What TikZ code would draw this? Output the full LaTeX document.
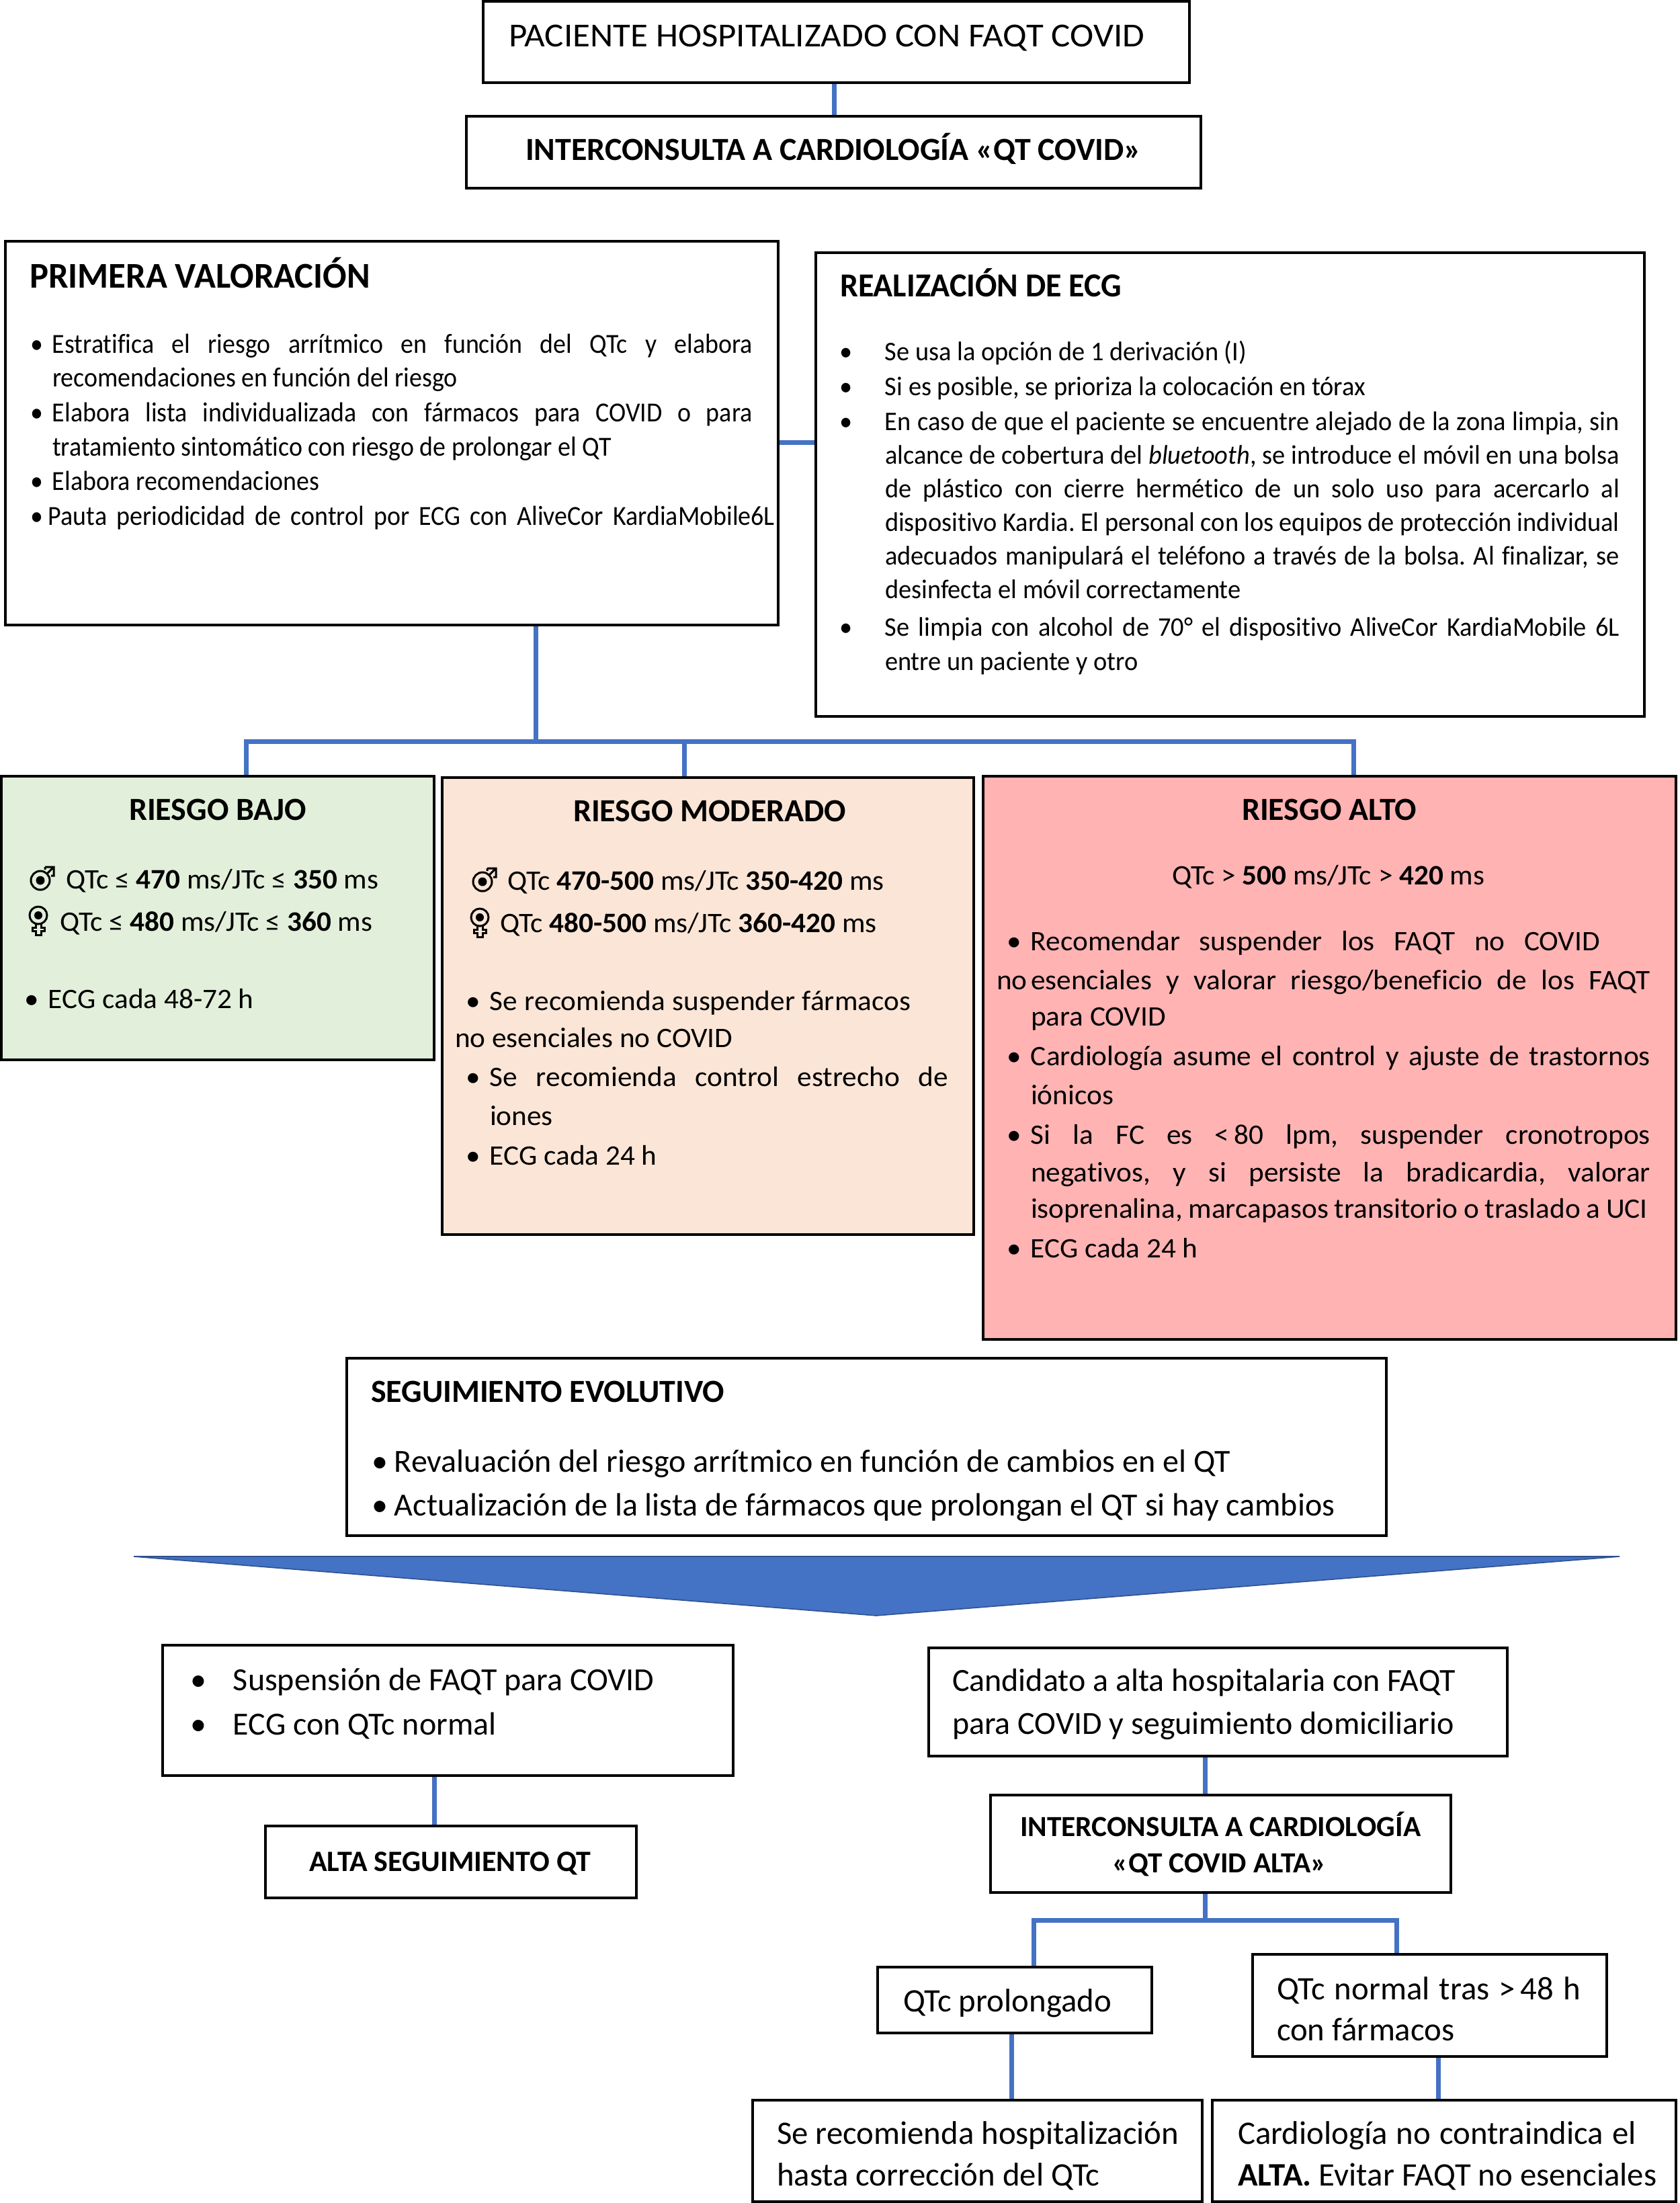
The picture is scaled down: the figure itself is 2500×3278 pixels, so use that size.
\documentclass[tikz,border=0pt]{standalone}
\usepackage{fontspec}
\setmainfont{Carlito}[Ligatures={TeX,NoCommon}]
\usetikzlibrary{backgrounds}
\newdimen\px \px=0.5pt
\newcommand\Fs[2]{\fontsize{#1}{#1}\selectfont\addfontfeature{FakeStretch=#2}}
\newcommand\Tx[4]{\node[tl] (#1) at (#2,#3) {#4};}
\newcommand\Jx[5]{\node[tl] (#1) at (#2,#3) {\hbox to #4\px{#5}};}
\newcommand\Bu[1]{\llap{\textbullet\kern#1\px}}
\newcommand\Bx[5]{\node[boxst,anchor=north west,minimum width={(#4-#2)*0.5pt},minimum height={(#5-#3)*0.5pt},#1] at (#2,#3) {};}
\definecolor{cblue}{HTML}{4472C4}
\definecolor{cgreen}{HTML}{E2EFDA}
\definecolor{cpeach}{HTML}{FBE5D6}
\definecolor{cpink}{HTML}{FFB3B3}
\definecolor{cdark}{HTML}{2F528F}
\tikzset{
 boxst/.style={draw=black,line width=2.4pt,inner sep=0pt,outer sep=0pt},
 tl/.style={anchor=base west,inner sep=0pt,outer sep=0pt,text=black},
 conn/.style={draw=cblue,line width=3.5pt},
 icon/.style={draw=black,line width=1.5pt,fill=none},
 maleicon/.pic={
  \draw[icon] (0,0) circle (14);
  \fill (0,0) circle (6.5);
  \draw[icon] (10,-10) -- (20,-20) (7,-20) -- (7,-16) (7,-20)--(20,-20) --(20,-7) -- (16,-7);
 },
 femaleicon/.pic={
  \draw[icon] (0,0) circle (13);
  \fill (0,0) circle (6);
  \draw[icon] (-4,13) -- (-4,18) -- (-9,18) -- (-9,23) -- (-4,23) -- (-4,29) -- (4,29) -- (4,23) -- (9,23) -- (9,18) -- (4,18) -- (4,13);
 },
}
\begin{document}
\frenchspacing
\begin{tikzpicture}[x=0.5pt,y=-0.5pt]
\useasboundingbox (0,0) rectangle (2500,3278);
% boxes
\Bx{name=pac}{719}{2}{1770}{123}
\Bx{name=inter}{694}{173}{1787}{280}
\Bx{name=prim}{8}{359}{1158}{930}
\Bx{name=ecg}{1214}{376}{2447}{1066}
\Bx{name=bajo,fill=cgreen}{2}{1155}{646}{1577}
\Bx{name=mod,fill=cpeach}{658}{1157}{1449}{1837}
\Bx{name=alto,fill=cpink}{1463}{1155}{2494}{1993}
\Bx{name=seg}{516}{2021}{2063}{2285}
\Bx{name=susp}{242}{2448}{1091}{2642}
\Bx{name=altaqt}{395}{2717}{947}{2824}
\Bx{name=cand}{1382}{2452}{2243}{2613}
\Bx{name=inter2}{1474}{2671}{2159}{2816}
\Bx{name=qtp}{1306}{2927}{1714}{3025}
\Bx{name=qtn}{1864}{2908}{2391}{3060}
\Bx{name=hosp}{1120}{3125}{1789}{3276}
\Bx{name=card}{1804}{3125}{2494}{3276}
% connectors
\coordinate (a1) at (1241,100);
\coordinate (j1) at (797,1103);
\coordinate (d1) at (366,1103);
\coordinate (d2) at (1018,1103);
\coordinate (d3) at (2014,1103);
\coordinate (h1) at (1200,658);
\coordinate (c1) at (646,2680);
\coordinate (c2) at (1793,2640);
\coordinate (j2) at (1793,2857);
\coordinate (d4) at (1538,2857);
\coordinate (d5) at (2078,2857);
\coordinate (c3) at (1505,3070);
\coordinate (c4) at (2140,3090);
\begin{scope}[on background layer]
\draw[conn] (pac.south -| a1) -- (inter.north -| a1);
\draw[conn] (prim.east |- h1) -- (ecg.west |- h1);
\draw[conn] (prim.south -| j1) -- (j1);
\draw[conn] (d1 |- bajo.north) -- (d1) -- (d3) -- (d3 |- alto.north);
\draw[conn] (d2) -- (d2 |- mod.north);
\draw[conn] (susp.south -| c1) -- (altaqt.north -| c1);
\draw[conn] (cand.south -| c2) -- (inter2.north -| c2);
\draw[conn] (inter2.south -| j2) -- (j2);
\draw[conn] (d4 |- qtp.north) -- (d4) -- (d5) -- (d5 |- qtn.north);
\draw[conn] (qtp.south -| c3) -- (hosp.north -| c3);
\draw[conn] (qtn.south -| c4) -- (card.north -| c4);
\end{scope}
% arrow triangle
\draw[fill=cblue,draw=cdark,line width=0.8pt] (199,2316) -- (2410,2316) -- (1304,2404) -- cycle;
% icons
\pic at (60,1310) {maleicon};
\pic at (57,1362) {femaleicon};
\pic at (718,1312) {maleicon};
\pic at (714,1365) {femaleicon};
% text
\begin{scope}[every node/.append style={font=\Fs{25}{1.06}}]
\Tx{t1}{757}{69}{PACIENTE HOSPITALIZADO CON FAQT COVID}
\end{scope}
\begin{scope}[every node/.append style={font=\Fs{24}{1.0}\bfseries}]
\Tx{t2}{782}{238}{INTERCONSULTA A CARDIOLOGÍA «QT COVID»}
\end{scope}
\begin{scope}[every node/.append style={font=\Fs{27}{0.975}\bfseries}]
\Tx{p0}{44}{428}{PRIMERA VALORACIÓN}
\end{scope}
\begin{scope}[every node/.append style={font=\Fs{20.5}{0.925}}]
\Jx{p1}{78}{525}{1042}{\Bu{14}Estratifica el riesgo arrítmico en función del QTc y elabora}
\Tx{p2}{78}{575}{recomendaciones en función del riesgo}
\Jx{p3}{78}{627}{1042}{\Bu{14}Elabora lista individualizada con fármacos para COVID o para}
\Tx{p4}{78}{678}{tratamiento sintomático con riesgo de prolongar el QT}
\Tx{p5}{78}{729}{\Bu{14}Elabora recomendaciones}
\Jx{p6}{72}{781}{1081}{\Bu{8}Pauta periodicidad de control por ECG con AliveCor KardiaMobile6L}
\end{scope}
\begin{scope}[every node/.append style={font=\Fs{25}{0.96}\bfseries}]
\Tx{e0}{1250}{441}{REALIZACIÓN DE ECG}
\end{scope}
\begin{scope}[every node/.append style={font=\Fs{20}{0.96}}]
\Tx{e1}{1317}{536}{\Bu{48}Se usa la opción de 1 derivación (I)}
\Tx{e2}{1317}{588}{\Bu{48}Si es posible, se prioriza la colocación en tórax}
\Jx{e3}{1317}{640}{1093}{\Bu{48}En caso de que el paciente se encuentre alejado de la zona limpia, sin}
\Jx{e4}{1317}{690}{1093}{alcance de cobertura del \textit{bluetooth}, se introduce el móvil en una bolsa}
\Jx{e5}{1317}{740}{1093}{de plástico con cierre hermético de un solo uso para acercarlo al}
\Jx{e6}{1317}{790}{1093}{dispositivo Kardia. El personal con los equipos de protección individual}
\Jx{e7}{1317}{840}{1093}{adecuados manipulará el teléfono a través de la bolsa. Al finalizar, se}
\Tx{e8}{1317}{890}{desinfecta el móvil correctamente}
\Jx{e9}{1317}{946}{1093}{\Bu{48}Se limpia con alcohol de 70° el dispositivo AliveCor KardiaMobile 6L}
\Tx{e10}{1317}{997}{entre un paciente y otro}
\end{scope}
\begin{scope}[every node/.append style={font=\Fs{24}{1.0}\bfseries}]
\Tx{b0}{192}{1220}{RIESGO BAJO}
\Tx{m0}{853}{1222}{RIESGO MODERADO}
\Tx{a0}{1848}{1220}{RIESGO ALTO}
\end{scope}
\begin{scope}[every node/.append style={font=\Fs{21}{1.03}}]
\Tx{b1}{98}{1322}{QTc ≤ \textbf{470} ms/JTc ≤ \textbf{350} ms}
\Tx{b2}{89}{1385}{QTc ≤ \textbf{480} ms/JTc ≤ \textbf{360} ms}
\Tx{b3}{72}{1500}{\Bu{14}ECG cada 48-72 h}
\Tx{m1}{755}{1324}{QTc \textbf{470-500} ms/JTc \textbf{350-420} ms}
\Tx{m2}{744}{1387}{QTc \textbf{480-500} ms/JTc \textbf{360-420} ms}
\Jx{m3}{729}{1503}{626}{\Bu{14}Se recomienda suspender fármacos}
\Tx{m4}{677}{1558}{no esenciales no COVID}
\Jx{m5}{729}{1616}{682}{\Bu{14}Se recomienda control estrecho de}
\Tx{m6}{729}{1674}{iones}
\Tx{m7}{729}{1733}{\Bu{14}ECG cada 24 h}
\Tx{a1t}{1744}{1316}{QTc > \textbf{500} ms/JTc > \textbf{420} ms}
\Jx{a2}{1534}{1414}{847}{\Bu{14}Recomendar suspender los FAQT no COVID}
\Tx{a3n}{1483}{1472}{no}
\Jx{a3}{1534}{1472}{922}{esenciales y valorar riesgo/beneficio de los FAQT}
\Tx{a4}{1534}{1526}{para COVID}
\Jx{a5}{1534}{1585}{922}{\Bu{14}Cardiología asume el control y ajuste de trastornos}
\Tx{a6}{1534}{1643}{iónicos}
\Jx{a7}{1534}{1702}{922}{\Bu{14}Si la FC es <\,80 lpm, suspender cronotropos}
\Jx{a8}{1534}{1758}{922}{negativos, y si persiste la bradicardia, valorar}
\Jx{a9}{1534}{1812}{918}{isoprenalina, marcapasos transitorio o traslado a UCI}
\Tx{a10}{1534}{1871}{\Bu{14}ECG cada 24 h}
\end{scope}
\begin{scope}[every node/.append style={font=\Fs{24}{1.0}\bfseries}]
\Tx{s0}{552}{2086}{SEGUIMIENTO EVOLUTIVO}
\end{scope}
\begin{scope}[every node/.append style={font=\Fs{24}{1.0}}]
\Tx{s1}{587}{2190}{\Bu{10}Revaluación del riesgo arrítmico en función de cambios en el QT}
\Tx{s2}{587}{2255}{\Bu{10}Actualización de la lista de fármacos que prolongan el QT si hay cambios}
\Tx{l1}{347}{2515}{\Bu{40}Suspensión de FAQT para COVID}
\Tx{l2}{347}{2581}{\Bu{40}ECG con QTc normal}
\Tx{r1}{1417}{2516}{Candidato a alta hospitalaria con FAQT}
\Tx{r2}{1417}{2580}{para COVID y seguimiento domiciliario}
\end{scope}
\begin{scope}[every node/.append style={font=\Fs{24.4}{1.0}}]
\Tx{qp}{1344}{2993}{QTc prolongado}
\Jx{qn1}{1900}{2975}{452}{QTc normal tras >\,48 h}
\Tx{qn2}{1900}{3036}{con fármacos}
\Tx{h1t}{1156}{3190}{Se recomienda hospitalización}
\Tx{h2t}{1156}{3252}{hasta corrección del QTc}
\Jx{c1t}{1842}{3190}{593}{Cardiología no contraindica el}
\Tx{c2t}{1842}{3252}{\textbf{ALTA.} Evitar FAQT no esenciales}
\end{scope}
\begin{scope}[every node/.append style={font=\Fs{22}{1.0}\bfseries}]
\Tx{al}{460}{2784}{ALTA SEGUIMIENTO QT}
\end{scope}
\begin{scope}[every node/.append style={font=\Fs{21.7}{1.0}\bfseries}]
\Tx{i1}{1518}{2732}{INTERCONSULTA A CARDIOLOGÍA}
\node[anchor=base,inner sep=0pt] (i2) at (1815,2786) {«QT COVID ALTA»};
\end{scope}
\end{tikzpicture}
\end{document}
